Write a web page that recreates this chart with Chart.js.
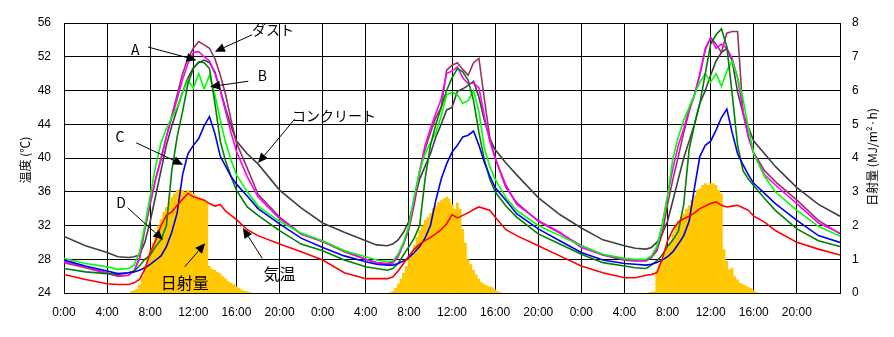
<!DOCTYPE html>
<html lang="ja">
<head>
<meta charset="utf-8">
<script src="https://cdn.jsdelivr.net/npm/chart.js@4.4.1/dist/chart.umd.min.js"></script>
<style>
  html, body { margin: 0; padding: 0; background: #fff; }
</style>
</head>
<body>
<canvas id="chart" width="894" height="337"></canvas>
<script>
// Measurement times within each day (hours), repeated for 3 days
const dayOffsets = [0, 24, 48];
const dayHours = [0, 2, 4, 5, 6, 6.5, 7, 7.5, 8, 8.5, 9, 9.5, 10, 10.5, 11, 11.5, 12, 12.5, 13, 13.5, 14, 14.5, 15, 15.5, 16, 17, 18, 20, 22];
const sunHours = [6, 6.25, 6.5, 6.75, 7, 7.25, 7.5, 7.75, 8, 8.25, 8.5, 8.75, 9, 9.25, 9.5, 9.75, 10, 10.25, 10.5, 10.75, 11, 11.25, 11.5, 11.75,
  12, 12.25, 12.5, 12.75, 13, 13.25, 13.5, 13.75, 14, 14.25, 14.5, 14.75, 15, 15.25, 15.5, 15.75, 16, 16.25, 16.5, 16.75, 17, 17.25, 17.5];

// Temperatures (°C): day 1, day 2, day 3, then the final 0:00 value
const dust = [
  27.6, 27.0, 26.3, 26.0, 26.1, 26.6, 28.0, 31.5, 34.5, 37.5, 39.8, 42.5, 45.0, 47.5, 50.0, 51.8, 53.0, 53.8, 53.4, 53.0, 51.8, 49.8, 47.5, 44.5, 41.8, 38.8, 35.7, 33.0, 31.0,
  30.1, 28.9, 28.0, 27.6, 27.5, 27.7, 28.5, 29.8, 31.5, 34.5, 38.3, 41.0, 43.0, 44.8, 46.0, 50.4, 51.0, 51.3, 50.5, 49.8, 51.3, 51.8, 47.0, 42.5, 40.0, 36.5, 34.7, 32.5, 31.1,
  29.6, 28.5, 27.9, 27.8, 27.8, 28.2, 29.0, 31.0, 34.5, 37.5, 40.2, 43.0, 45.5, 47.5, 50.0, 52.8, 54.3, 53.5, 52.5, 54.8, 55.0, 55.0, 45.3, 42.5, 40.6, 38.5, 37.2, 35.0, 32.6,
  31.0];
const seriesA = [
  27.7, 27.1, 26.4, 26.0, 26.1, 26.6, 28.2, 31.8, 34.8, 37.5, 40.0, 42.5, 44.8, 47.0, 49.3, 51.2, 52.5, 52.6, 52.0, 51.5, 50.0, 48.0, 45.5, 43.0, 40.8, 37.8, 35.4, 32.8, 31.0,
  30.1, 29.0, 28.0, 27.6, 27.4, 27.5, 28.3, 29.8, 31.8, 35.0, 38.5, 41.5, 43.5, 45.3, 47.0, 50.0, 50.3, 50.8, 49.5, 48.8, 48.9, 48.3, 45.0, 42.0, 40.0, 36.8, 34.5, 32.6, 31.2,
  29.4, 28.5, 28.0, 27.9, 27.9, 28.3, 29.3, 32.0, 35.5, 38.8, 41.5, 43.5, 45.8, 47.5, 49.8, 53.0, 54.2, 53.0, 53.5, 53.0, 51.8, 49.5, 45.6, 42.5, 40.5, 38.0, 36.8, 34.6, 32.3,
  31.1];
const seriesB = [
  28.1, 27.5, 27.1, 26.8, 26.9, 27.3, 28.8, 32.0, 35.5, 39.0, 41.8, 43.5, 44.8, 46.0, 47.8, 49.2, 48.3, 50.0, 48.2, 49.8, 47.5, 44.5, 41.8, 39.8, 38.0, 36.0, 34.3, 32.5, 31.1,
  30.2, 29.0, 28.3, 27.9, 27.7, 27.8, 28.6, 30.0, 32.0, 35.5, 38.5, 40.5, 41.8, 43.0, 45.0, 47.5, 47.8, 47.5, 46.5, 46.8, 48.0, 45.5, 41.2, 39.0, 37.5, 35.3, 33.8, 32.0, 30.8,
  29.6, 28.6, 28.1, 28.0, 28.0, 28.4, 29.5, 32.0, 35.5, 40.0, 42.5, 44.5, 46.0, 47.5, 49.0, 50.0, 49.0, 50.0, 48.5, 50.3, 51.5, 49.5, 47.0, 43.5, 40.5, 37.8, 36.0, 33.8, 31.9,
  30.75];
const seriesC = [
  27.9, 27.2, 26.6, 26.3, 26.4, 26.5, 26.7, 27.0, 27.4, 27.9, 28.4, 29.5, 31.2, 33.5, 38.0, 40.5, 41.5, 42.3, 43.8, 44.9, 42.9, 40.2, 39.0, 37.8, 36.9, 35.5, 34.0, 32.2, 30.5,
  29.4, 28.4, 27.7, 27.4, 27.3, 27.3, 27.5, 27.8, 28.2, 28.8, 29.5, 30.5, 32.0, 35.0, 37.5, 39.3, 40.7, 41.5, 42.5, 42.7, 43.2, 41.5, 39.5, 37.9, 36.5, 35.0, 33.4, 31.6, 30.2,
  28.8, 27.9, 27.5, 27.4, 27.3, 27.4, 27.6, 27.9, 28.3, 28.9, 29.8, 30.8, 32.5, 36.5, 40.2, 41.5, 42.0, 43.3, 44.8, 45.8, 43.0, 40.5, 39.2, 38.0, 37.0, 35.8, 34.6, 32.6, 30.8,
  30.0];
const seriesD = [
  26.9, 26.5, 26.3, 26.2, 26.4, 26.6, 27.2, 28.0, 28.5, 29.5, 30.3, 32.0, 38.5, 42.5, 45.5, 48.8, 50.6, 51.4, 51.3, 50.6, 46.5, 42.0, 39.6, 37.8, 36.2, 34.2, 33.2, 31.4, 29.8,
  29.0, 27.9, 27.1, 26.9, 26.7, 26.9, 27.5, 28.5, 29.5, 30.5, 32.0, 37.5, 41.5, 44.0, 46.0, 48.0, 49.5, 50.6, 50.2, 49.2, 46.8, 43.0, 39.8, 37.5, 36.0, 34.3, 33.0, 31.0, 29.8,
  28.6, 27.6, 27.2, 27.0, 26.9, 27.3, 27.8, 28.5, 29.5, 30.3, 31.3, 34.5, 41.0, 44.0, 46.5, 50.0, 53.5, 54.6, 55.3, 53.2, 47.5, 41.5, 38.5, 37.5, 36.7, 35.2, 33.8, 31.6, 30.2,
  29.5];
const concrete = [
  30.7, 29.6, 28.8, 28.3, 28.2, 28.3, 28.5, 30.0, 32.5, 35.5, 38.5, 41.5, 43.8, 45.8, 47.8, 49.5, 50.7, 51.3, 51.6, 51.3, 50.2, 48.1, 45.8, 43.8, 42.0, 40.5, 39.3, 36.2, 34.1,
  32.3, 31.2, 30.2, 29.7, 29.6, 29.8, 30.3, 31.2, 32.5, 35.0, 37.5, 39.0, 40.5, 42.5, 44.0, 45.7, 46.0, 47.9, 48.2, 48.6, 49.1, 47.2, 44.5, 42.3, 41.0, 39.4, 38.0, 35.3, 33.3,
  31.7, 30.3, 29.6, 29.3, 29.2, 29.4, 30.0, 31.0, 32.5, 35.0, 37.5, 40.0, 42.0, 44.0, 46.5, 48.0, 49.8, 51.5, 52.5, 53.0, 51.5, 47.8, 45.3, 43.6, 42.0, 40.5, 39.0, 36.5, 34.5,
  33.1];
const airTemp = [
  26.2, 25.6, 25.1, 25.0, 25.0, 25.2, 25.6, 26.8, 28.8, 30.2, 32.0, 33.2, 33.6, 34.4, 35.1, 35.8, 35.4, 35.2, 35.0, 34.6, 34.3, 34.5, 33.7, 33.2, 32.7, 31.5, 30.8, 29.8, 28.9,
  27.9, 26.4, 25.7, 25.7, 25.7, 25.9, 26.6, 27.5, 28.4, 29.2, 29.8, 30.2, 30.6, 31.0, 31.5, 32.2, 33.3, 32.9, 33.2, 33.5, 33.9, 34.2, 34.0, 33.8, 33.0, 31.5, 30.8, 29.6, 28.4,
  27.2, 26.4, 25.8, 25.8, 26.1, 26.2, 26.4, 28.0, 30.2, 31.5, 32.4, 32.8, 33.1, 33.5, 34.0, 34.3, 34.6, 34.8, 34.4, 34.2, 34.3, 34.4, 34.1, 33.8, 33.1, 32.4, 31.4, 30.0, 29.2,
  28.5];

// Solar radiation (MJ/m²·h), 6:00-17:30 each day
const solar = [
  0, 0.05, 0.08, 0.12, 0.25, 0.5, 0.8, 1.05, 1.3, 1.5, 1.75, 2.0, 2.2, 2.4, 2.55, 2.7, 2.85, 2.95, 3.05, 3.1, 3.05, 3.0, 3.05, 3.0,
  2.95, 2.9, 2.85, 2.8, 2.78, 2.7, 0.8, 0.72, 0.68, 0.62, 0.58, 0.5, 0.42, 0.35, 0.3, 0.25, 0.2, 0.15, 0.1, 0.07, 0.05, 0.02, 0,
  0, 0.02, 0.06, 0.15, 0.28, 0.42, 0.6, 0.8, 1.0, 1.2, 1.42, 1.65, 1.87, 2.0, 2.16, 2.25, 2.36, 2.52, 2.6, 2.7, 2.75, 2.8, 2.85, 2.8,
  2.62, 2.5, 2.68, 2.5, 1.9, 1.5, 1.0, 0.85, 0.68, 0.55, 0.42, 0.32, 0.26, 0.22, 0.19, 0.17, 0.1, 0.05, 0.02, 0, 0, 0, 0,
  0, 0.02, 0.04, 0.05, 0.65, 0.85, 1.0, 1.2, 1.35, 1.5, 1.75, 2.0, 2.15, 2.25, 2.35, 2.5, 2.6, 2.75, 2.9, 3.05, 3.1, 3.2, 3.25, 3.2,
  3.25, 3.25, 3.2, 3.05, 2.95, 1.3, 0.95, 0.7, 0.75, 0.5, 0.4, 0.3, 0.26, 0.22, 0.18, 0.15, 0.08, 0.03, 0, 0, 0, 0, 0];

// Callout labels: text position, arrow start, arrow tip (hours, °C)
const noteText = ['ダスト', 'A', 'B', 'C', 'D', 'コンクリート', '日射量', '気温'];
const noteSize = [14, 14, 14, 14, 14, 14, 16, 16];
const noteAt = [[19.4, 55.2], [6.6, 52.8], [18.4, 49.8], [5.2, 42.5], [5.3, 34.7], [25.05, 45.0], [11.2, 25.2], [20.0, 26.3]];
const noteFrom = [[17.45, 54.6], [7.8, 53.15], [17.1, 49.1], [6.7, 41.8], [5.9, 34.1], [21.4, 44.6], [11.2, 27.1], [18.4, 28.1]];
const noteTip = [[14.0, 52.6], [12.3, 51.6], [13.55, 48.45], [11.05, 39.2], [9.2, 30.3], [18.0, 39.4], [13.1, 29.9], [16.6, 31.7]];

function toPoints(times, values) {
  const pts = [];
  dayOffsets.forEach((off, d) => {
    times.forEach((h, i) => pts.push({ x: off + h, y: values[d * times.length + i] }));
  });
  if (values.length > dayOffsets.length * times.length) {
    pts.push({ x: 72, y: values[values.length - 1] });
  }
  return pts;
}

function lineSet(label, values, color) {
  return {
    label: label,
    data: toPoints(dayHours, values),
    borderColor: color,
    borderWidth: 1.6,
    pointRadius: 0,
    tension: 0,
    yAxisID: 'y'
  };
}

const jpFont = "'Noto Sans CJK JP', 'Noto Sans', sans-serif";

const notesPlugin = {
  id: 'notes',
  afterDatasetsDraw(chart) {
    const ctx = chart.ctx;
    const xs = chart.scales.x, ys = chart.scales.y;
    ctx.save();
    ctx.strokeStyle = '#000';
    ctx.fillStyle = '#000';
    ctx.lineWidth = 1;
    noteText.forEach((t, i) => {
      const x0 = xs.getPixelForValue(noteFrom[i][0]), y0 = ys.getPixelForValue(noteFrom[i][1]);
      const x1 = xs.getPixelForValue(noteTip[i][0]), y1 = ys.getPixelForValue(noteTip[i][1]);
      const ang = Math.atan2(y1 - y0, x1 - x0);
      const len = 10, half = 4.5;
      const bx = x1 - len * Math.cos(ang), by = y1 - len * Math.sin(ang);
      ctx.beginPath();
      ctx.moveTo(x0, y0);
      ctx.lineTo(bx, by);
      ctx.stroke();
      ctx.beginPath();
      ctx.moveTo(x1, y1);
      ctx.lineTo(bx + half * Math.sin(ang), by - half * Math.cos(ang));
      ctx.lineTo(bx - half * Math.sin(ang), by + half * Math.cos(ang));
      ctx.closePath();
      ctx.fill();

      ctx.font = noteSize[i] + 'px ' + jpFont;
      ctx.textAlign = 'center';
      ctx.textBaseline = 'middle';
      ctx.fillText(t, xs.getPixelForValue(noteAt[i][0]), ys.getPixelForValue(noteAt[i][1]));
    });
    ctx.restore();
  },
  afterDraw(chart) {
    const ctx = chart.ctx;
    const mid = (chart.chartArea.top + chart.chartArea.bottom) / 2;
    ctx.save();
    ctx.fillStyle = '#000';
    ctx.font = '12px ' + jpFont;
    ctx.textAlign = 'center';
    ctx.textBaseline = 'middle';
    ctx.translate(25, mid + 2);
    ctx.rotate(-Math.PI / 2);
    ctx.fillText('温度 (℃)', 0, 0);
    ctx.restore();
    ctx.save();
    ctx.fillStyle = '#000';
    ctx.font = '12px ' + jpFont;
    ctx.textAlign = 'center';
    ctx.textBaseline = 'middle';
    ctx.translate(872, mid - 1);
    ctx.rotate(-Math.PI / 2);
    ctx.fillText('日射量 (MJ/m²·h)', 0, 0);
    ctx.restore();
  }
};

const tickFont = { family: "'Liberation Sans', Arial, sans-serif", size: 12 };

new Chart(document.getElementById('chart'), {
  type: 'line',
  data: {
    datasets: [
      lineSet('気温', airTemp, '#FF0000'),
      lineSet('C', seriesC, '#0000EE'),
      lineSet('D', seriesD, '#008000'),
      lineSet('B', seriesB, '#00FF00'),
      lineSet('A', seriesA, '#FF00FF'),
      lineSet('ダスト', dust, '#993366'),
      lineSet('コンクリート', concrete, '#404040'),
      {
        label: '日射量',
        data: toPoints(sunHours, solar),
        yAxisID: 'y2',
        stepped: 'middle',
        borderWidth: 0,
        borderColor: 'rgba(0,0,0,0)',
        backgroundColor: '#FFC800',
        fill: 'origin',
        pointRadius: 0
      }
    ]
  },
  options: {
    responsive: false,
    animation: false,
    layout: { padding: { top: 23, left: 0, right: 0, bottom: 0 } },
    plugins: { legend: { display: false }, tooltip: { enabled: false } },
    scales: {
      x: {
        type: 'linear',
        min: 0,
        max: 72,
        afterFit: s => { s.height = 44; },
        ticks: {
          stepSize: 4,
          padding: 12,
          color: '#000',
          font: tickFont,
          maxRotation: 0,
          autoSkip: false,
          callback: v => v >= 72 ? '' : (v % 24) + ':00'
        },
        grid: { color: '#000', lineWidth: 1, drawTicks: false },
        border: { color: '#000', width: 1 }
      },
      y: {
        position: 'left',
        min: 24,
        max: 56,
        afterFit: s => { s.width = 64; },
        ticks: { stepSize: 4, padding: 13, color: '#000', font: tickFont },
        grid: { color: '#000', lineWidth: 1, drawTicks: false },
        border: { color: '#000', width: 1 }
      },
      y2: {
        position: 'right',
        min: 0,
        max: 8,
        afterFit: s => { s.width = 54; },
        ticks: { stepSize: 1, padding: 12, color: '#000', font: tickFont },
        grid: { display: false, drawTicks: false },
        border: { color: '#000', width: 1 }
      }
    }
  },
  plugins: [notesPlugin]
});
</script>
</body>
</html>
